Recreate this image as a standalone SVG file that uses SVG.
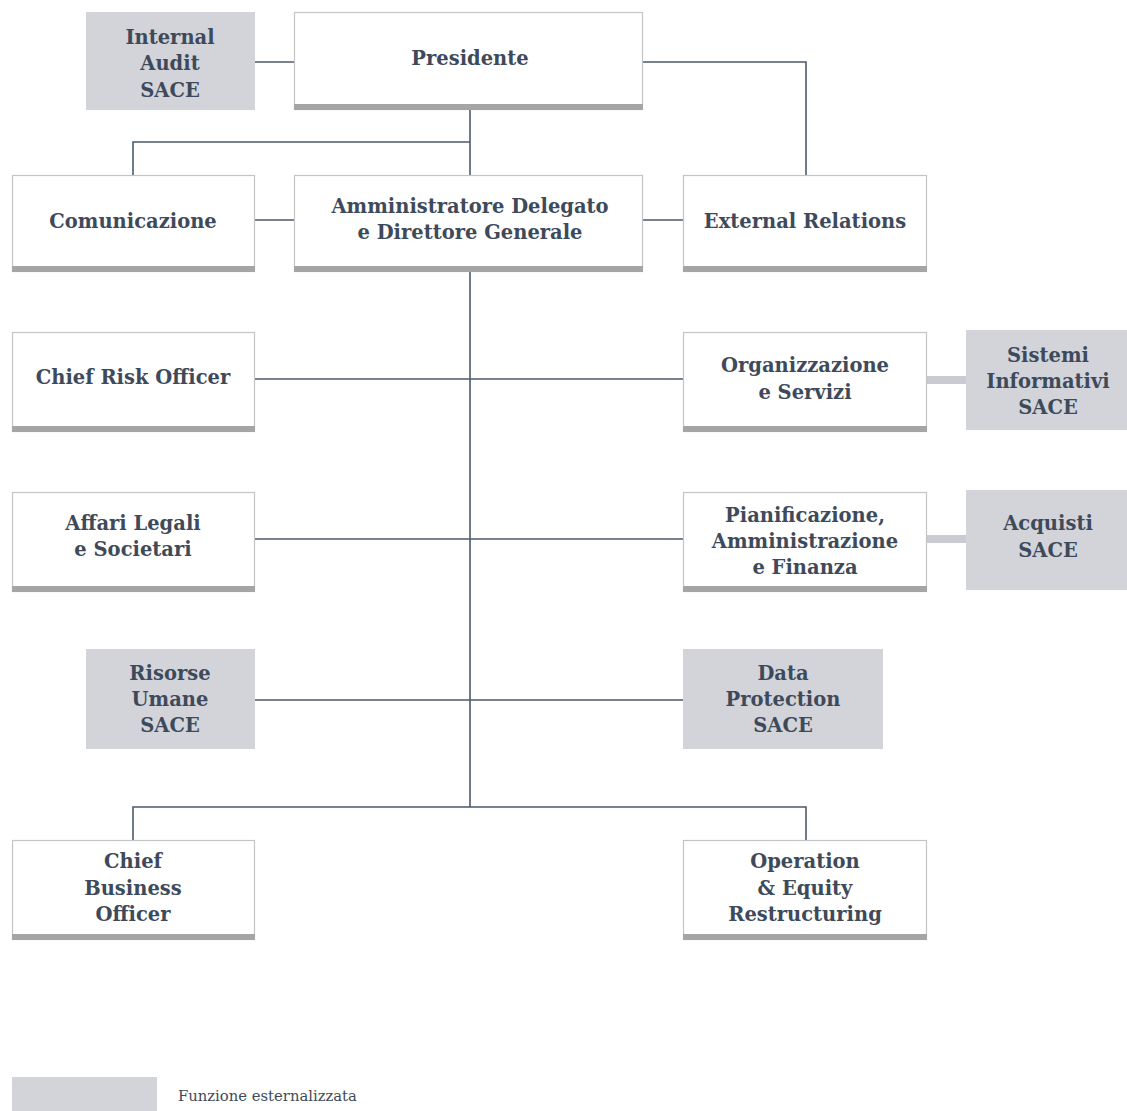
<svg xmlns="http://www.w3.org/2000/svg" width="1127" height="1111" viewBox="0 0 1127 1111">
<style>
.box{fill:#ffffff;stroke:#c4c4c4;stroke-width:1.2}
.band{fill:#a5a5a5}
.ext{fill:#d3d4da}
.t{font-family:"DejaVu Serif","Liberation Serif",serif;font-weight:bold;font-size:19.5px;fill:#3e4a5a;text-anchor:middle}
.lg{font-family:"DejaVu Serif","Liberation Serif",serif;font-size:14.8px;fill:#3e4a5a}
.ln{stroke:#4b5a6a;stroke-width:1.6;fill:none}
.thick{stroke:#c9cad2;stroke-width:8;fill:none}
</style>
<rect width="1127" height="1111" fill="#ffffff"/>
<g id="connectors">
<path class="ln" d="M255 62H294"/>
<path class="ln" d="M642 62H806V175"/>
<path class="ln" d="M470 110V175"/>
<path class="ln" d="M470 142H133V175"/>
<path class="ln" d="M255 220H294"/>
<path class="ln" d="M642 220H683"/>
<path class="ln" d="M470 272V807"/>
<path class="ln" d="M255 379H683"/>
<path class="ln" d="M255 539H683"/>
<path class="ln" d="M255 700H683"/>
<path class="ln" d="M133 840V807H806V840"/>
<path class="thick" d="M927 380H966"/>
<path class="thick" d="M927 539H966"/>
</g>
<g id="internal-audit">
<rect class="ext" x="86" y="12" width="169" height="98"/>
<text class="t" x="170" y="44">Internal</text>
<text class="t" x="170" y="70">Audit</text>
<text class="t" x="170" y="97">SACE</text>
</g>
<g id="presidente">
<rect class="box" x="294.5" y="12.5" width="348" height="97"/>
<rect class="band" x="294" y="104" width="349" height="6"/>
<text class="t" x="470" y="65">Presidente</text>
</g>
<g id="comunicazione">
<rect class="box" x="12.5" y="175.5" width="242" height="96"/>
<rect class="band" x="12" y="266" width="243" height="6"/>
<text class="t" x="133" y="228">Comunicazione</text>
</g>
<g id="ad">
<rect class="box" x="294.5" y="175.5" width="348" height="96"/>
<rect class="band" x="294" y="266" width="349" height="6"/>
<text class="t" x="470" y="213">Amministratore Delegato</text>
<text class="t" x="470" y="239">e Direttore Generale</text>
</g>
<g id="external-relations">
<rect class="box" x="683.5" y="175.5" width="243" height="96"/>
<rect class="band" x="683" y="266" width="244" height="6"/>
<text class="t" x="805" y="228">External Relations</text>
</g>
<g id="cro">
<rect class="box" x="12.5" y="332.5" width="242" height="99"/>
<rect class="band" x="12" y="426" width="243" height="6"/>
<text class="t" x="133" y="384">Chief Risk Officer</text>
</g>
<g id="organizzazione">
<rect class="box" x="683.5" y="332.5" width="243" height="99"/>
<rect class="band" x="683" y="426" width="244" height="6"/>
<text class="t" x="805" y="372">Organizzazione</text>
<text class="t" x="805" y="399">e Servizi</text>
</g>
<g id="sistemi-informativi">
<rect class="ext" x="966" y="330" width="161" height="100"/>
<text class="t" x="1048" y="362">Sistemi</text>
<text class="t" x="1048" y="388">Informativi</text>
<text class="t" x="1048" y="414">SACE</text>
</g>
<g id="affari-legali">
<rect class="box" x="12.5" y="492.5" width="242" height="99"/>
<rect class="band" x="12" y="586" width="243" height="6"/>
<text class="t" x="133" y="530">Affari Legali</text>
<text class="t" x="133" y="556">e Societari</text>
</g>
<g id="pianificazione">
<rect class="box" x="683.5" y="492.5" width="243" height="99"/>
<rect class="band" x="683" y="586" width="244" height="6"/>
<text class="t" x="805" y="522">Pianificazione,</text>
<text class="t" x="805" y="548">Amministrazione</text>
<text class="t" x="805" y="574">e Finanza</text>
</g>
<g id="acquisti">
<rect class="ext" x="966" y="490" width="161" height="100"/>
<text class="t" x="1048" y="530">Acquisti</text>
<text class="t" x="1048" y="557">SACE</text>
</g>
<g id="risorse-umane">
<rect class="ext" x="86" y="649" width="169" height="100"/>
<text class="t" x="170" y="680">Risorse</text>
<text class="t" x="170" y="706">Umane</text>
<text class="t" x="170" y="732">SACE</text>
</g>
<g id="data-protection">
<rect class="ext" x="683" y="649" width="200" height="100"/>
<text class="t" x="783" y="680">Data</text>
<text class="t" x="783" y="706">Protection</text>
<text class="t" x="783" y="732">SACE</text>
</g>
<g id="cbo">
<rect class="box" x="12.5" y="840.5" width="242" height="99"/>
<rect class="band" x="12" y="934" width="243" height="6"/>
<text class="t" x="133" y="868">Chief</text>
<text class="t" x="133" y="895">Business</text>
<text class="t" x="133" y="921">Officer</text>
</g>
<g id="operation">
<rect class="box" x="683.5" y="840.5" width="243" height="99"/>
<rect class="band" x="683" y="934" width="244" height="6"/>
<text class="t" x="805" y="868">Operation</text>
<text class="t" x="805" y="895">&amp; Equity</text>
<text class="t" x="805" y="921">Restructuring</text>
</g>
<g id="legend">
<rect class="ext" x="12" y="1077" width="145" height="34"/>
<text class="lg" x="178" y="1101">Funzione esternalizzata</text>
</g>
</svg>
